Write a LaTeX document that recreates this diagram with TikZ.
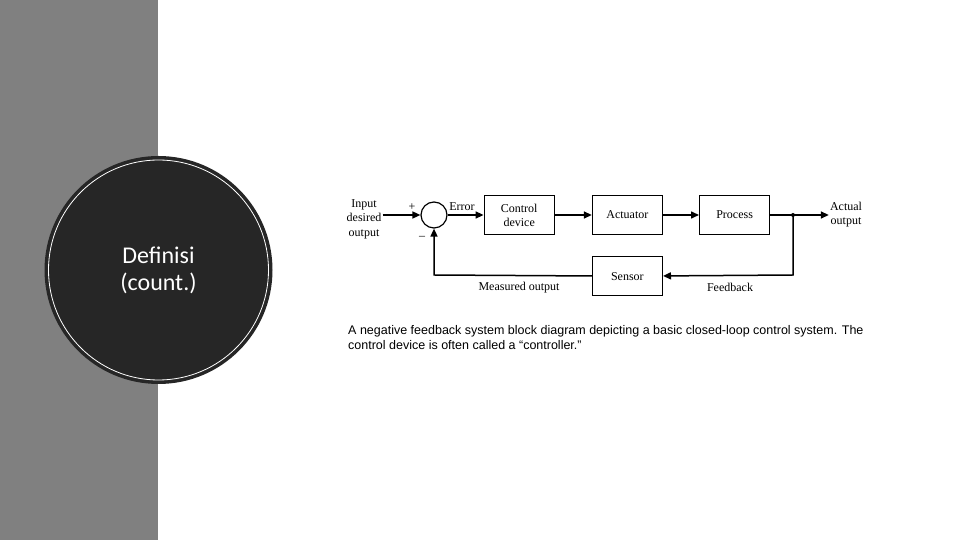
\documentclass[tikz,border=0pt]{standalone}
\usepackage{fontspec}
\setmainfont{Liberation Serif}
\newfontfamily\capfont[Ligatures=TeX]{Liberation Sans}
\newfontfamily\titlefont{Carlito}
\usetikzlibrary{arrows.meta, positioning}

\definecolor{panelgray}{HTML}{808080}
\definecolor{discdark}{HTML}{262626}

\begin{document}
\begin{tikzpicture}[
  x=1pt, y=1pt,
  block/.style={rectangle, draw=black, line width=1.2pt, fill=white,
                minimum width=70pt, minimum height=39pt,
                align=center, font=\fontsize{12}{14}\selectfont},
  sumjn/.style={circle, draw=black, line width=1.2pt, minimum size=26pt, inner sep=0pt},
  lbl/.style={font=\fontsize{12}{14}\selectfont, align=center, inner sep=1pt},
  sig/.style={-{Triangle[length=8pt, width=7pt]}, line width=1.5pt},
]
  \useasboundingbox (0,0) rectangle (960,540);
  % side panel and title disc
  \fill[panelgray] (0,0) rectangle (158,540);
  \node[circle, fill=discdark, minimum size=228pt, inner sep=0pt] (disc) at (158.5,270) {};
  \draw[white, line width=0.8pt] (disc.center) circle (110);
  \node[font=\titlefont\fontsize{24}{27}\selectfont, text=white, align=center] (title)
    at (disc.center) {Definisi\\(count.)};

  % loop blocks
  \node[sumjn] (sum) at (434,325) {};
  \node[block, right=36pt of sum] (ctrl) {Control\\device};
  \node[block, right=37pt of ctrl] (act) {Actuator};
  \node[block, right=36pt of act] (proc) {Process};
  \node[block, below=21pt of act] (sens) {Sensor};

  \node[lbl, font=\fontsize{12}{14.5}\selectfont] (inp) at (364,321) {Input\\desired\\output};
  \node[lbl] (out) at (846,325) {Actual\\output};
  \coordinate (tap) at (793,325);
  \coordinate (fbr) at (793,265);
  \coordinate (fbl) at (434,265);

  \draw[sig] (inp.east |- sum.west) -- (sum);
  \draw[sig] (sum) -- (ctrl);
  \draw[sig] (ctrl) -- (act);
  \draw[sig] (act) -- (proc);
  \draw[sig] (proc) -- (out);
  \fill (tap) circle (2);
  \draw[sig] (tap) -- (fbr) -- (sens);
  \draw[sig] (sens) -- (fbl) -- (sum);

  \node[lbl] (plus) at (412,333) {+};
  \node[lbl] (minus) at (422,302) {--};
  \node[lbl] (err) at (462,333) {Error};
  \node[lbl] (meas) at (519,252) {Measured output};
  \node[lbl] (fb) at (730,253) {Feedback};

  % caption
  \node[font=\capfont\fontsize{12.5}{15}\selectfont, align=left, anchor=north west,
        inner sep=0pt] (cap) at (348,215)
    {A negative feedback system block diagram depicting a basic closed-loop control system. The\\
     control device is often called a ``controller.''};
\end{tikzpicture}
\end{document}
